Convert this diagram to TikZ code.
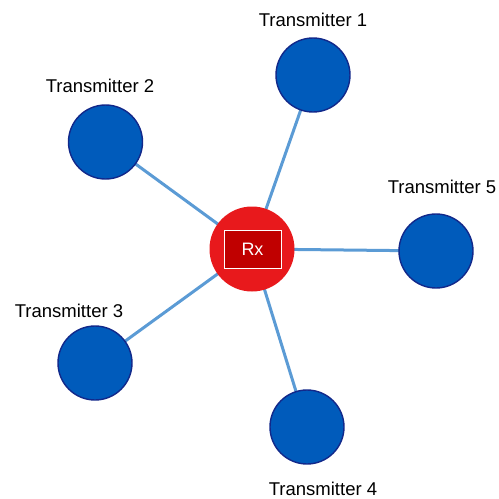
\documentclass[tikz,border=0pt]{standalone}
\usepackage{fontspec}
\setmainfont{Liberation Sans}
\usepackage{xcolor}
\definecolor{txblue}{HTML}{005BBB}
\definecolor{txedge}{HTML}{12288A}
\definecolor{rxred}{HTML}{E8191C}
\definecolor{rxbox}{HTML}{C00000}
\definecolor{link}{HTML}{5B9BD5}
\usetikzlibrary{backgrounds}
\tikzset{
  tx/.style={circle, draw=txedge, fill=txblue, line width=1.4pt, minimum size=74pt, inner sep=0pt},
  rx/.style={circle, fill=rxred, minimum size=85pt, inner sep=0pt},
  rxtag/.style={draw=white, fill=rxbox, line width=0.8pt, minimum width=57pt, minimum height=38pt,
    text=white, font=\fontsize{18}{20}\selectfont},
  lab/.style={anchor=base, font=\fontsize{18.5}{22}\selectfont, text=black},
  wire/.style={draw=link, line width=3pt},
}

\begin{document}
\begin{tikzpicture}[x=1pt, y=-1pt]
  \useasboundingbox (0,0) rectangle (499,499);

  \node[rx] (rx) at (252,249) {};
  \node[rxtag] (rxt) at (252.5,249) {Rx};

  \node[tx] (t1) at (313,75) {};
  \node[tx] (t2) at (105.5,142) {};
  \node[tx] (t3) at (95,363) {};
  \node[tx] (t4) at (307,427) {};
  \node[tx] (t5) at (436,251) {};

  \node[lab] (l1) at (313,26) {Transmitter 1};
  \node[lab] (l2) at (100,92) {Transmitter 2};
  \node[lab] (l3) at (69,317) {Transmitter 3};
  \node[lab] (l4) at (323,495) {Transmitter 4};
  \node[lab] (l5) at (442,193) {Transmitter 5};

  \begin{scope}[on background layer]
    \foreach \t in {t1,t2,t3,t4,t5}
      \draw[wire] (rx.center) -- (\t.center);
  \end{scope}
\end{tikzpicture}
\end{document}
